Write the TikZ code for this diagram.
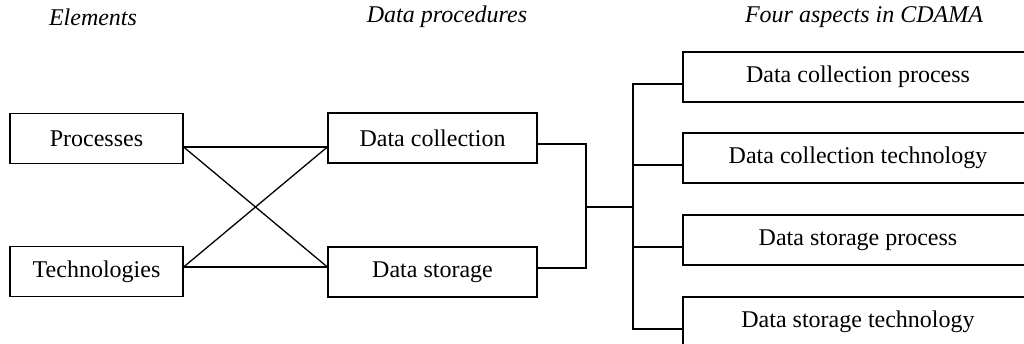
\documentclass[tikz,border=0pt]{standalone}
\usepackage{fontspec}
\setmainfont{Liberation Serif}
\usepackage{tikz}
\usetikzlibrary{positioning,calc}
\tikzset{
  box/.style  = {draw,line width=1.3pt,inner sep=0pt,minimum height=50pt,
                 font=\fontsize{24}{28}\selectfont},
  head/.style = {inner sep=0pt,font=\fontsize{24}{28}\selectfont\itshape},
  link/.style = {line width=1.3pt}
}

\begin{document}
\begin{tikzpicture}[x=1pt,y=-1pt]
    \useasboundingbox (0,0) rectangle (1024,344);
    \clip (0,0) rectangle (1024,344);

    % column headings
    \node[head] (hel)  at (93,17)  {Elements};
    \node[head] (hdp)  at (447,17) {Data procedures};
    \node[head] (hasp) at (864,17) {Four aspects in CDAMA};

    % elements
    \node[box,minimum width=173pt] (proc) at (96.5,138.5) {Processes};
    \node[box,minimum width=173pt] (tech) at (96.5,271.5) {Technologies};

    % data procedures
    \node[box,minimum width=209pt] (dcol) at (432.5,138) {Data collection};
    \node[box,minimum width=209pt] (dsto) at (432.5,272) {Data storage};

    % four aspects
    \node[box,minimum width=350pt] (asp1) at (858,77)  {Data collection process};
    \node[box,minimum width=350pt] (asp2) at (858,158) {Data collection technology};
    \node[box,minimum width=350pt] (asp3) at (858,240) {Data storage process};
    \node[box,minimum width=350pt] (asp4) at (858,322) {Data storage technology};

    % crossing links
    \draw[link] ($(proc.east)+(0,8.5)$) -- ($(dcol.west)+(0,9)$);
    \draw[link] ($(proc.east)+(0,8.5)$) -- ($(dsto.west)+(0,-5)$);
    \draw[link] ($(tech.east)+(0,-4.5)$) -- ($(dsto.west)+(0,-5)$);
    \draw[link] ($(tech.east)+(0,-4.5)$) -- ($(dcol.west)+(0,9)$);

    % joining bracket
    \coordinate (jl) at (586,207);
    \coordinate (jr) at (633,207);
    \draw[link] ($(dcol.east)+(0,6)$) -| (jl);
    \draw[link] ($(dsto.east)+(0,-4)$) -| (jl);
    \draw[link] (jl) -- (jr);
    \foreach \a in {asp1,asp2,asp3,asp4}
      \draw[link] (jr) |- ($(\a.west)+(0,7)$);
\end{tikzpicture}
\end{document}
